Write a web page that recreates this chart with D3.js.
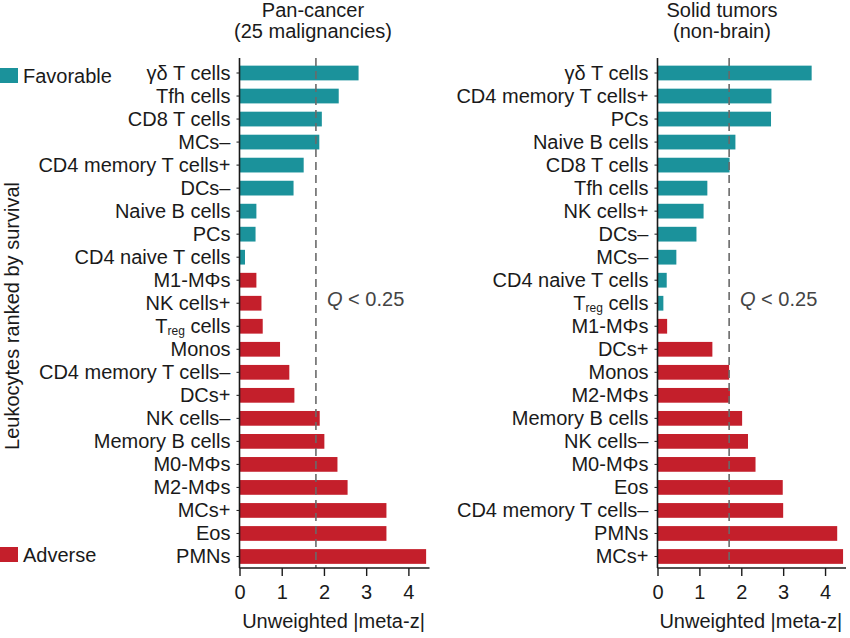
<!DOCTYPE html>
<html>
<head>
<meta charset="utf-8">
<script src="https://cdn.jsdelivr.net/npm/d3@7"></script>
<style>
  html, body { margin: 0; padding: 0; background: #fff; }
  svg { display: block; font-family: "Liberation Sans", Arial, Helvetica, sans-serif; }
</style>
</head>
<body>
<svg id="chart" width="850" height="638"></svg>
<script>
// ---------- DATA ----------
const panCancerCategories = [
  "γδ T cells", "Tfh cells", "CD8 T cells", "MCs–", "CD4 memory T cells+", "DCs–",
  "Naive B cells", "PCs", "CD4 naive T cells", "M1-MΦs", "NK cells+", "Treg cells",
  "Monos", "CD4 memory T cells–", "DCs+", "NK cells–", "Memory B cells", "M0-MΦs",
  "M2-MΦs", "MCs+", "Eos", "PMNs"
];
const panCancerValues = [
  2.82, 2.35, 1.95, 1.89, 1.52, 1.28,
  0.40, 0.38, 0.13, 0.40, 0.52, 0.55,
  0.96, 1.18, 1.30, 1.90, 2.01, 2.32,
  2.56, 3.48, 3.48, 4.42
];
const panCancerEffect = [
  "Favorable", "Favorable", "Favorable", "Favorable", "Favorable", "Favorable",
  "Favorable", "Favorable", "Favorable", "Adverse", "Adverse", "Adverse",
  "Adverse", "Adverse", "Adverse", "Adverse", "Adverse", "Adverse",
  "Adverse", "Adverse", "Adverse", "Adverse"
];

const solidCategories = [
  "γδ T cells", "CD4 memory T cells+", "PCs", "Naive B cells", "CD8 T cells", "Tfh cells",
  "NK cells+", "DCs–", "MCs–", "CD4 naive T cells", "Treg cells", "M1-MΦs",
  "DCs+", "Monos", "M2-MΦs", "Memory B cells", "NK cells–", "M0-MΦs",
  "Eos", "CD4 memory T cells–", "PMNs", "MCs+"
];
const solidValues = [
  3.68, 2.72, 2.71, 1.86, 1.72, 1.19,
  1.10, 0.93, 0.45, 0.22, 0.14, 0.23,
  1.31, 1.71, 1.73, 2.02, 2.16, 2.34,
  2.99, 3.00, 4.29, 4.43
];
const solidEffect = [
  "Favorable", "Favorable", "Favorable", "Favorable", "Favorable", "Favorable",
  "Favorable", "Favorable", "Favorable", "Favorable", "Favorable", "Adverse",
  "Adverse", "Adverse", "Adverse", "Adverse", "Adverse", "Adverse",
  "Adverse", "Adverse", "Adverse", "Adverse"
];

const panelTitles = [["Pan-cancer", "(25 malignancies)"], ["Solid tumors", "(non-brain)"]];
const qThresholds = [1.81, 1.71];
const qLabel = "< 0.25";
const xTicks = [0, 1, 2, 3, 4];
const xDomain = [0, 4.5];
const xAxisTitle = "Unweighted |meta-z|";
const yAxisTitle = "Leukocytes ranked by survival";
const legendItems = ["Favorable", "Adverse"];

// ---------- STYLE ----------
const colors = { Favorable: "#1b929b", Adverse: "#c41f2b" };
const textColor = "#1a1a1a";
const fontSize = 20;

const svg = d3.select("#chart");

const panels = [
  { cats: panCancerCategories, vals: panCancerValues, eff: panCancerEffect,
    x0: 239.5, x1: 429.5, titleX: 313, qx: 327 },
  { cats: solidCategories, vals: solidValues, eff: solidEffect,
    x0: 657.5, x1: 846, titleX: 722, qx: 740 }
];
const yTop = 61.5, yBottom = 568;

function isTreg(label) { return label.startsWith("Treg"); }

function writeLabel(sel, label) {
  if (isTreg(label)) {
    sel.append("tspan").text("T");
    sel.append("tspan").attr("font-size", 12).attr("dy", 2.5).text("reg");
    sel.append("tspan").attr("dy", -2.5).text(" cells");
  } else {
    sel.text(label);
  }
}

panels.forEach((p, i) => {
  const data = p.cats.map((c, j) => ({ cat: c, val: p.vals[j], eff: p.eff[j] }));
  const x = d3.scaleLinear().domain(xDomain).range([p.x0, p.x1]);
  const y = d3.scaleBand().domain(p.cats).range([yTop, yBottom]).paddingInner(0.36).paddingOuter(0.18);

  const g = svg.append("g");

  // bars
  g.selectAll("rect.bar").data(data).enter().append("rect")
    .attr("class", "bar")
    .attr("x", x(0))
    .attr("y", d => y(d.cat))
    .attr("width", d => x(d.val) - x(0))
    .attr("height", y.bandwidth())
    .attr("fill", d => colors[d.eff]);

  // threshold dashed line
  g.append("line")
    .attr("x1", x(qThresholds[i])).attr("x2", x(qThresholds[i]))
    .attr("y1", 58).attr("y2", yBottom)
    .attr("stroke", "#6a6a6a").attr("stroke-width", 1.6)
    .attr("stroke-dasharray", "8,5");

  // Q label
  const qt = g.append("text")
    .attr("x", p.qx).attr("y", 306)
    .attr("font-size", fontSize).attr("fill", "#444");
  qt.append("tspan").attr("font-style", "italic").text("Q");
  qt.append("tspan").text(" " + qLabel);

  // y axis
  const yAxis = d3.axisLeft(y).tickSize(3).tickFormat("");
  const ya = g.append("g").attr("transform", `translate(${x(0)},0)`).call(yAxis);
  ya.select(".domain").attr("d", `M0,58V${yBottom}`).attr("stroke", textColor).attr("stroke-width", 1.6);
  ya.selectAll(".tick line").attr("stroke", textColor);

  // category labels
  g.selectAll("text.cat").data(data).enter().append("text")
    .attr("class", "cat")
    .attr("x", x(0) - 9)
    .attr("y", d => y(d.cat) + y.bandwidth() / 2 + 7 - (isTreg(d.cat) ? 0.5 : 0))
    .attr("text-anchor", "end")
    .attr("font-size", fontSize)
    .attr("fill", textColor)
    .each(function(d) { writeLabel(d3.select(this), d.cat); });

  // x axis
  const xAxis = d3.axisBottom(x).tickValues(xTicks).tickSize(8).tickPadding(9).tickFormat(d3.format("d"));
  const xa = g.append("g").attr("transform", `translate(0,${yBottom})`).call(xAxis);
  xa.select(".domain").attr("d", `M${x(0)},0H${x.range()[1]}`).attr("stroke", textColor).attr("stroke-width", 1.6);
  xa.selectAll(".tick line").attr("stroke", textColor).attr("stroke-width", 1.4);
  xa.selectAll(".tick text").attr("font-size", fontSize).attr("fill", textColor)
    .attr("font-family", "Liberation Sans, Arial, sans-serif");

  // x axis title
  g.append("text")
    .attr("x", (x.range()[0] + x.range()[1]) / 2 - 1)
    .attr("y", 628)
    .attr("text-anchor", "middle")
    .attr("font-size", fontSize).attr("fill", textColor)
    .text(xAxisTitle);

  // panel titles
  panelTitles[i].forEach((t, k) => {
    g.append("text")
      .attr("x", p.titleX).attr("y", 17 + k * 21)
      .attr("text-anchor", "middle")
      .attr("font-size", fontSize).attr("fill", textColor)
      .text(t);
  });
});

// legend
const legendY = [68, 547];
legendItems.forEach((name, k) => {
  svg.append("rect").attr("x", 0).attr("y", legendY[k]).attr("width", 18).attr("height", 15)
    .attr("fill", colors[name]);
  svg.append("text").attr("x", 23).attr("y", legendY[k] + 15)
    .attr("font-size", fontSize).attr("fill", textColor).text(name);
});

// y axis title
svg.append("text")
  .attr("transform", "translate(19,316) rotate(-90)")
  .attr("text-anchor", "middle")
  .attr("font-size", fontSize).attr("fill", textColor)
  .text(yAxisTitle);
</script>
</body>
</html>
